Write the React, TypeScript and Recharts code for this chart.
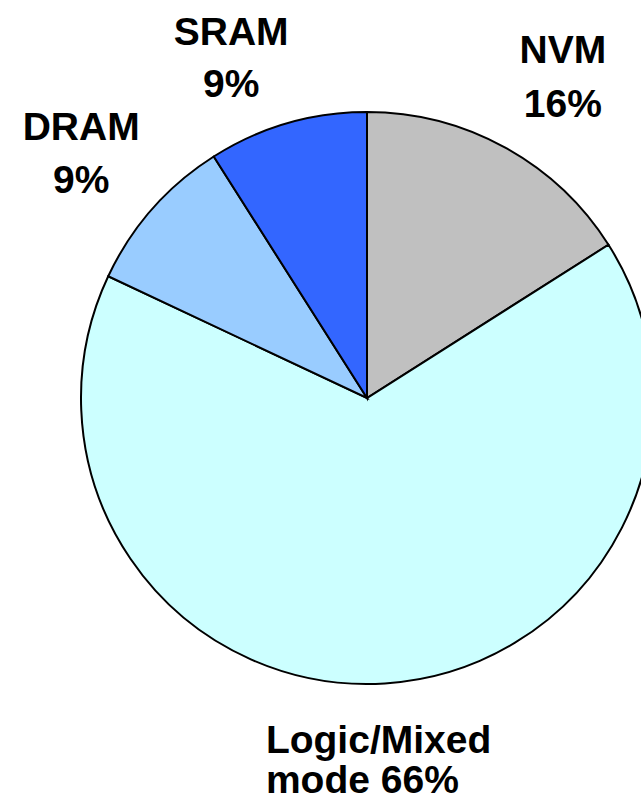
import { PieChart, Pie, Cell } from 'recharts';

const NAMES = ['NVM', 'Logic/Mixed mode', 'DRAM', 'SRAM'];
const VALUES = [16, 66, 9, 9];
const TITLE_LINES = ['NVM', 'Logic/Mixed', 'DRAM', 'SRAM'];
const PCT_LINES = ['16%', 'mode 66%', '9%', '9%'];

const COLORS = ['#C0C0C0', '#CCFFFF', '#99CCFF', '#3366FF'];
// label placement: polar point at LABEL_R, then a small nudge per slice
const LABEL_R = 365;
const LABEL_NUDGE = [
  [20, -2],
  [-124, -3],
  [-12, -4.5],
  [-34, 9.5],
];
const LABEL_ANCHOR = ['middle', 'start', 'middle', 'middle'];
const LINE_GAP = [54, 40, 53, 52];
const FONT_SIZE = 39;
const HALF_CAP = 14;

const RADIAN = Math.PI / 180;

const data = NAMES.map((name, i) => ({ name, value: VALUES[i] }));

function renderLabel(props: any) {
  const { cx, cy, midAngle, index } = props;
  const x = cx + LABEL_R * Math.cos(-midAngle * RADIAN) + LABEL_NUDGE[index][0];
  const y = cy + LABEL_R * Math.sin(-midAngle * RADIAN) + LABEL_NUDGE[index][1];
  const gap = LINE_GAP[index];
  return (
    <text
      key={`lbl-${index}`}
      x={x}
      textAnchor={LABEL_ANCHOR[index]}
      fill="#000"
      fontFamily="'Liberation Sans', Arial, sans-serif"
      fontWeight="bold"
      fontSize={FONT_SIZE}
    >
      <tspan x={x} y={y - gap / 2 + HALF_CAP}>{TITLE_LINES[index]}</tspan>
      <tspan x={x} y={y + gap / 2 + HALF_CAP}>{PCT_LINES[index]}</tspan>
    </text>
  );
}

export default function App() {
  return (
    <div style={{ position: 'absolute', left: 0, top: 0, width: 641, height: 798, background: '#fff', overflow: 'hidden' }}>
      <PieChart width={641} height={798} margin={{ top: 0, right: 0, bottom: 0, left: 0 }}>
        <Pie
          data={data}
          dataKey="value"
          nameKey="name"
          cx={367}
          cy={398}
          outerRadius={286}
          startAngle={90}
          endAngle={-270}
          stroke="#000"
          strokeWidth={2}
          label={renderLabel}
          labelLine={false}
          isAnimationActive={false}
        >
          {data.map((d, i) => (
            <Cell key={d.name} fill={COLORS[i]} />
          ))}
        </Pie>
      </PieChart>
    </div>
  );
}
